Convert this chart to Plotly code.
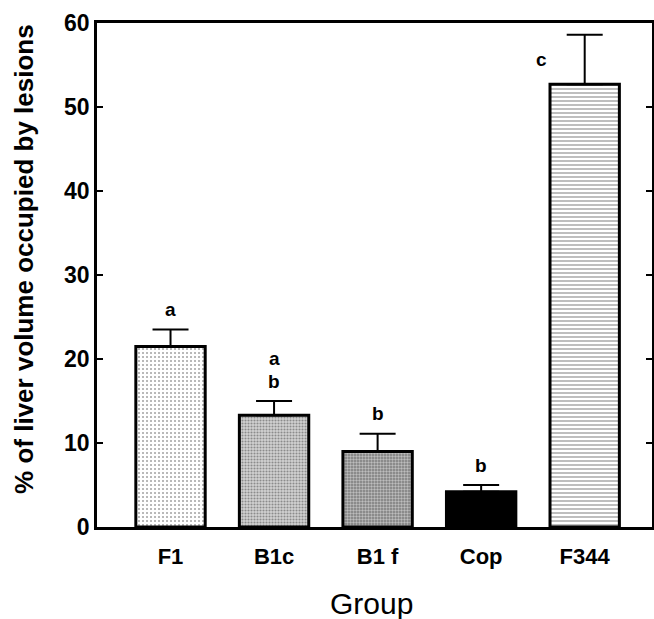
import plotly.graph_objects as go

groups = ["F1", "B1c", "B1 f", "Cop", "F344"]
means = [21.5, 13.3, 9.0, 4.2, 52.7]
sem = [2.0, 1.7, 2.1, 0.8, 5.9]
sig_letters = [["a"], ["b", "a"], ["b"], ["b"], ["c"]]

bar_fill = ["#ffffff", "#d2d2d2", "#7a7a7a", "#000000", "#ffffff"]
pat_shape = [".", ".", ".", "", "-"]
pat_fg = ["#b0b0b0", "#7a7a7a", "#3a3a3a", "#000000", "#000000"]
pat_size = [4, 3, 3, 4, 4]
pat_solid = [0.2, 0.4, 0.5, 0.3, 0.35]

font_b = "Liberation Sans, Arial, sans-serif"

fig = go.Figure()
fig.add_trace(go.Bar(
    x=groups, y=means, width=0.67,
    marker=dict(
        color=bar_fill,
        line=dict(color="black", width=3),
        pattern=dict(shape=pat_shape, fgcolor=pat_fg, size=pat_size,
                     solidity=pat_solid, fillmode="overlay"),
    ),
    error_y=dict(type="data", array=sem, arrayminus=[0] * len(sem),
                 symmetric=False, color="black", thickness=2, width=18),
    showlegend=False,
))

annotations = []
for g, m, s, labs in zip(groups, means, sem, sig_letters):
    if g == "F344":
        annotations.append(dict(x=g, y=m + s, xref="x", yref="y", text=labs[0],
                                showarrow=False, xshift=-43, yshift=-25,
                                font=dict(family=font_b, size=19, color="black", weight="bold")))
    else:
        for k, lab in enumerate(labs):
            annotations.append(dict(x=g, y=m + s, xref="x", yref="y", text=lab,
                                    showarrow=False, yshift=20 + 23 * k,
                                    font=dict(family=font_b, size=19, color="black", weight="bold")))

annotations.append(dict(x=-0.1315, y=0.532, xref="paper", yref="paper",
                        xanchor="center", yanchor="middle",
                        text="% of liver volume occupied by lesions", textangle=-90,
                        showarrow=False,
                        font=dict(family=font_b, size=26, color="black", weight="bold")))
annotations.append(dict(x=0.495, y=-0.151, xref="paper", yref="paper",
                        xanchor="center", yanchor="middle",
                        text="Group", showarrow=False,
                        font=dict(family=font_b, size=30, color="black")))

fig.update_layout(
    width=654, height=619,
    margin=dict(l=97, r=2, t=23, b=92, autoexpand=False),
    plot_bgcolor="white", paper_bgcolor="white",
    annotations=annotations,
)
fig.update_xaxes(
    range=[-0.71, 4.65], showline=True, linecolor="black", linewidth=2.5,
    mirror=True, ticks="", showgrid=False, automargin=False,
    tickfont=dict(family=font_b, size=22, color="black", weight="bold"),
    ticklabelstandoff=8,
)
fig.update_yaxes(
    range=[0, 60], tickvals=[0, 10, 20, 30, 40, 50, 60],
    showline=True, linecolor="black", linewidth=2.5, mirror="ticks",
    ticks="inside", ticklen=6, tickwidth=2, tickcolor="black", showgrid=False,
    zeroline=False, automargin=False,
    tickfont=dict(family=font_b, size=23, color="black", weight="bold"),
)

fig.write_html("out.html", config={"displayModeBar": False},
               post_script="document.body.style.margin='0';")
